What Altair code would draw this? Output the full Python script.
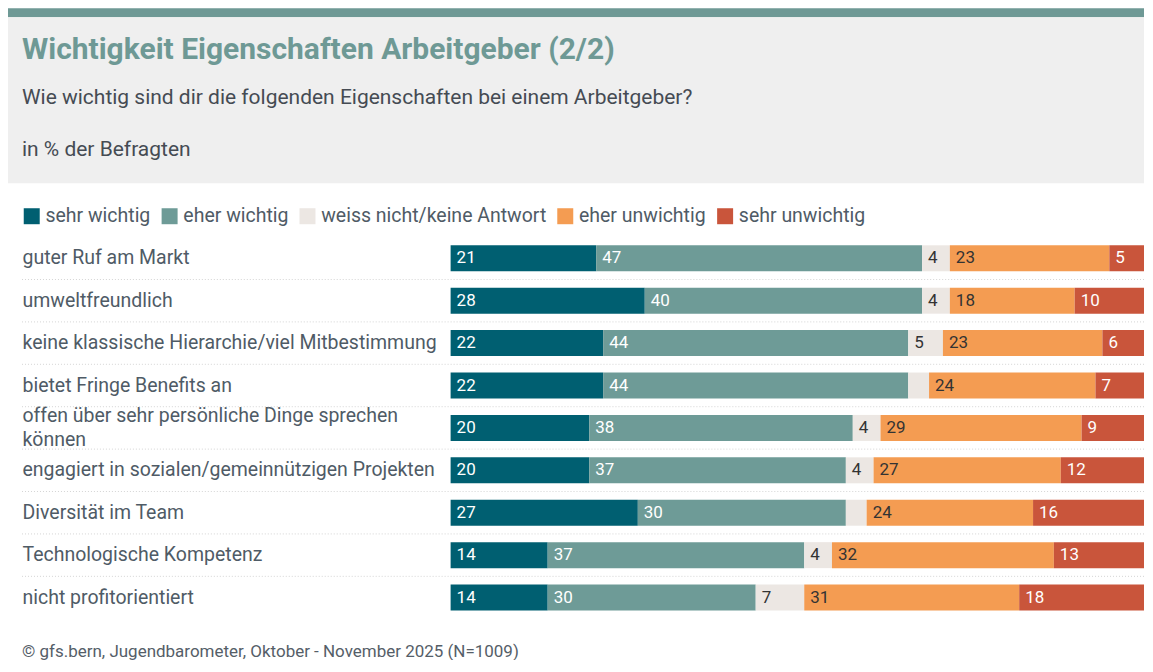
import altair as alt
import pandas as pd

# ---- data ----
items = [
    "guter Ruf am Markt",
    "umweltfreundlich",
    "keine klassische Hierarchie/viel Mitbestimmung",
    "bietet Fringe Benefits an",
    "offen über sehr persönliche Dinge sprechen|können",
    "engagiert in sozialen/gemeinnützigen Projekten",
    "Diversität im Team",
    "Technologische Kompetenz",
    "nicht profitorientiert",
]
categories = ["sehr wichtig", "eher wichtig", "weiss nicht/keine Antwort",
              "eher unwichtig", "sehr unwichtig"]
sehr_wichtig = [21, 28, 22, 22, 20, 20, 27, 14, 14]
eher_wichtig = [47, 40, 44, 44, 38, 37, 30, 37, 30]
weiss_nicht = [4, 4, 5, 3, 4, 4, 3, 4, 7]
eher_unwichtig = [23, 18, 23, 24, 29, 27, 24, 32, 31]
sehr_unwichtig = [5, 10, 6, 7, 9, 12, 16, 13, 18]
colors = ["#005f71", "#6e9b97", "#ece7e3", "#f49c52", "#c9553b"]
label_colors = ["#ffffff", "#ffffff", "#333333", "#333333", "#ffffff"]

title = "Wichtigkeit Eigenschaften Arbeitgeber (2/2)"
subtitle = "Wie wichtig sind dir die folgenden Eigenschaften bei einem Arbeitgeber?"
unit = "in % der Befragten"
source = "© gfs.bern, Jugendbarometer, Oktober - November 2025 (N=1009)"

series = [sehr_wichtig, eher_wichtig, weiss_nicht, eher_unwichtig, sehr_unwichtig]
rows = []
for ci, (cat, vals) in enumerate(zip(categories, series)):
    for ii, (item, v) in enumerate(zip(items, vals)):
        rows.append({"item": item, "cat": cat, "value": v, "order": ci,
                     "lc": label_colors[ci], "idx": ii})
df = pd.DataFrame(rows)

FONT = "Roboto"
OFF = 443          # plot left edge from chart left
W, H = 694, 382
LEFT = -429        # text left edge relative to plot
TEXTC = "#4f5b66"

y_enc = alt.Y("item:N", sort=items,
              scale=alt.Scale(paddingInner=0.38, paddingOuter=0.19),
              axis=alt.Axis(title=None, domain=False, ticks=False, grid=False,
                            labelAlign="left", labelPadding=429,
                            labelLimit=500, labelFont=FONT, labelFontSize=19.5,
                            labelColor=TEXTC, labelLineHeight=24,
                            labelOffset={"condition": {"test": "indexof(datum.value, '|') >= 0",
                                                       "value": -12}, "value": 0},
                            labelExpr="split(datum.value, '|')"))

base = alt.Chart(df).transform_stack(
    stack="value", groupby=["item"], as_=["x0", "x1"],
    sort=[alt.SortField("order", order="ascending")]
)

bars = base.mark_bar(size=26).encode(
    x=alt.X("x0:Q", scale=alt.Scale(domain=[0, 100], nice=False), axis=None),
    x2="x1:Q",
    y=y_enc,
    color=alt.Color("cat:N", sort=categories,
                    scale=alt.Scale(domain=categories, range=colors),
                    legend=alt.Legend(title=None, orient="none", legendX=LEFT,
                                      legendY=-31, direction="horizontal",
                                      symbolType="square", symbolSize=256,
                                      symbolStrokeWidth=0, symbolOpacity=1,
                                      labelFont=FONT, labelFontSize=19.5,
                                      labelLimit=400,
                                      labelColor=TEXTC, labelOffset=4,
                                      columnPadding=9)),
)

labels = base.transform_filter("datum.value >= 4").mark_text(
    align="left", baseline="middle", dx=6, font=FONT, fontSize=17
).encode(
    x=alt.X("x0:Q"),
    y=alt.Y("item:N", sort=items),
    text=alt.Text("value:Q"),
    color=alt.Color("lc:N", scale=None),
)

main = alt.layer(bars, labels)

# separators between rows (boundary k lies between row k-1 and row k)
sep_df = pd.DataFrame({"k": list(range(1, len(items)))})
seps = alt.Chart(sep_df).mark_rule(color="#d4d4d4", strokeDash=[1, 2],
                                   strokeWidth=1).encode(
    y=alt.Y("k:Q", scale=alt.Scale(domain=[0, len(items)], reverse=True, nice=False),
            axis=None),
    x=alt.value(LEFT), x2=alt.value(W),
)

one = pd.DataFrame({"a": [0]})
stripe = alt.Chart(one).mark_rect(color="#6e9995").encode(
    x=alt.value(-OFF), x2=alt.value(W), y=alt.value(-229), y2=alt.value(-220))
bg = alt.Chart(one).mark_rect(color="#efefef").encode(
    x=alt.value(-OFF), x2=alt.value(W), y=alt.value(-220), y2=alt.value(-54))
t_title = alt.Chart(one).mark_text(
    text=title, align="left", baseline="alphabetic", font=FONT, fontSize=30,
    fontWeight="bold", color="#6e9995").encode(x=alt.value(LEFT), y=alt.value(-178))
t_sub = alt.Chart(one).mark_text(
    text=subtitle, align="left", baseline="alphabetic", font=FONT, fontSize=21,
    color="#454b53").encode(x=alt.value(LEFT), y=alt.value(-133))
t_unit = alt.Chart(one).mark_text(
    text=unit, align="left", baseline="alphabetic", font=FONT, fontSize=21,
    color="#454b53").encode(x=alt.value(LEFT), y=alt.value(-81))
t_src = alt.Chart(one).mark_text(
    text=source, align="left", baseline="alphabetic", font=FONT, fontSize=17,
    color="#555e68").encode(x=alt.value(LEFT), y=alt.value(420))

chart = alt.layer(stripe, bg, t_title, t_sub, t_unit, seps, main, t_src).resolve_scale(
    y="independent"
).properties(
    width=W, height=H, padding=0, background="white"
).configure_view(stroke=None)

chart.save("out.html", embed_options={"renderer": "svg", "actions": False})
